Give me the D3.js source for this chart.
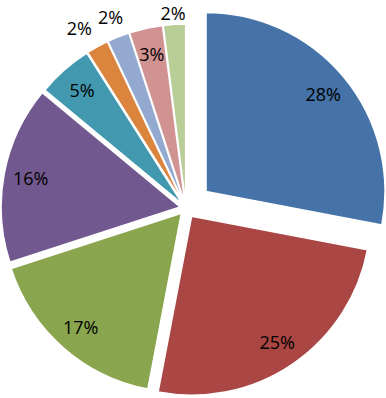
<!DOCTYPE html>
<html>
<head>
<meta charset="utf-8">
<script src="https://cdnjs.cloudflare.com/ajax/libs/d3/7.8.5/d3.min.js"></script>
<style>
  body { margin: 0; background: #ffffff; }
  svg { display: block; }
</style>
</head>
<body>
<div class="pie-chart"></div>
<script>
//Data, clockwise from 12 o'clock
var slices = ["A", "B", "C", "D", "E", "F", "G", "H", "I"];
var values = [28, 25, 17, 16, 5, 2, 2, 3, 2];
var palette = ["#4572A7", "#AA4643", "#89A54E", "#71588F", "#4198AF",
               "#DB843D", "#93A9CF", "#D19392", "#B9CD96"];

var pieView = {
    width: 386,
    height: 398,
    radius: 179,
    center: [186, 208],
    fontSize: 18,
    //how far each slice is pulled out of the pie
    explode: [26, 10, 7, 6, 5, 5, 5, 5, 5],
    init() {
        this.svg = d3.select(".pie-chart")
            .append("svg")
            .attr("width", this.width)
            .attr("height", this.height);

        this.color = d3.scaleOrdinal().domain(slices).range(palette);

        const pie = d3.pie().sort(null).value(d => d.value);
        this.arcs = pie(slices.map((s, i) => ({ name: s, value: values[i] })));
        this.arc = d3.arc().innerRadius(0).outerRadius(this.radius);
    },
    //offset of a slice along its middle angle
    offset(d, i) {
        const mid = (d.startAngle + d.endAngle) / 2;
        const dist = this.explode[i];
        return [this.center[0] + Math.sin(mid) * dist, this.center[1] - Math.cos(mid) * dist];
    },
    render() {
        const g = this.svg.append("g");

        //Slices
        g.selectAll("path")
            .data(this.arcs)
            .join("path")
            .attr("transform", (d, i) => `translate(${this.offset(d, i)})`)
            .attr("d", this.arc)
            .attr("fill", d => this.color(d.data.name))
            .attr("stroke", "#ffffff")
            .attr("stroke-width", 1.5)
            .attr("stroke-linejoin", "round");

        //Label positions: inside for big slices, outside for tiny ones
        const fs = this.fontSize;
        const pos = this.arcs.map((d, i) => {
            const mid = (d.startAngle + d.endAngle) / 2;
            const outside = d.data.value < 3;
            const r = outside ? this.radius + 21 : this.radius * 0.85;
            const p = this.offset(d, i);
            //baseline, kept low enough that the text stays on the page
            return {
                x: p[0] + Math.sin(mid) * r,
                y: Math.max(p[1] - Math.cos(mid) * r + fs * 0.36, fs * 1.1),
                outside: outside
            };
        });

        const labels = g.selectAll("text")
            .data(this.arcs)
            .join("text")
            .attr("text-anchor", "middle")
            .style("font-family", "'Open Sans', sans-serif")
            .style("font-size", fs + "px")
            .style("fill", "#000000")
            .text(d => d.data.value + "%");

        //Push overlapping outside labels apart (to the left)
        const widths = labels.nodes().map(n => n.getComputedTextLength());
        const outer = pos.map((p, i) => i).filter(i => pos[i].outside);
        for (let k = outer.length - 2; k >= 0; --k) {
            const a = outer[k], b = outer[k + 1];
            if (Math.abs(pos[a].y - pos[b].y) > fs) continue;
            const gap = (pos[b].x - widths[b] / 2) - (pos[a].x + widths[a] / 2);
            if (gap < 6) pos[a].x -= 6 - gap;
        }

        labels.attr("transform", (d, i) => `translate(${pos[i].x},${pos[i].y})`);
    }
};

pieView.init();
pieView.render();
</script>
</body>
</html>
